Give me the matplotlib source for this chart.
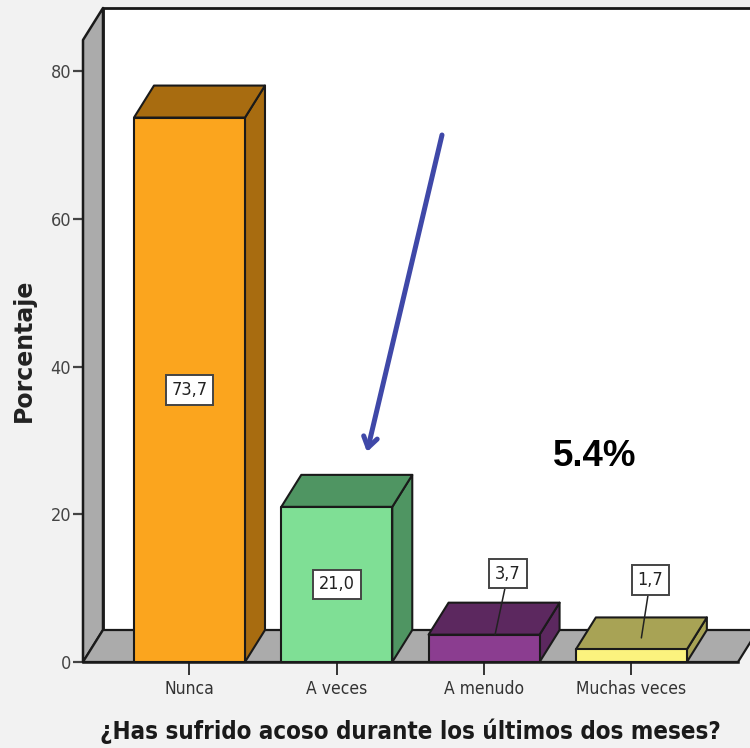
import matplotlib
matplotlib.use("Agg")
import matplotlib.pyplot as plt
from matplotlib.patches import Polygon

categorias = ["Nunca", "A veces", "A menudo", "Muchas veces"]
porcentajes = [73.7, 21.0, 3.7, 1.7]
etiquetas = ["73,7", "21,0", "3,7", "1,7"]
marcas_y = [0, 20, 40, 60, 80]

frente = ["#fba51e", "#7fdf95", "#8b3d90", "#fbf37e"]
arriba = ["#a86c10", "#4f9562", "#5c285f", "#a8a355"]
lado = ["#a86c10", "#4f9562", "#5c285f", "#a8a355"]

W, H = 750, 748
GRIS = "#ababab"
NEGRO = "#1a1a1a"
PASO = 147.3  # pixels between categories

fig = plt.figure(figsize=(W / 100, H / 100), dpi=100, facecolor="#f2f2f2")
# the plot box runs from x=83 to x=738 and y=40 to y=662 in image pixels
ax = fig.add_axes([83 / W, 1 - 662 / H, (738 - 83) / W, (662 - 40) / H])
ax.patch.set_visible(False)
for s in ax.spines.values():
    s.set_visible(False)

xmin, xmax = -0.723, 3.724
ymax = 84.2
ax.set_xlim(xmin, xmax)
ax.set_ylim(0, ymax)

# 3d offset and bar width
dx = 20 / PASO
dy = 32 / 7.3875
ancho = 111 / PASO


def poli(puntos, color, lw=1.5, z=1):
    ax.add_patch(Polygon(puntos, closed=True, facecolor=color, edgecolor=NEGRO,
                         linewidth=lw, clip_on=False, zorder=z, joinstyle="round"))


# back wall, left wall, floor
poli([(xmin + dx, dy), (xmax + 1, dy), (xmax + 1, ymax + dy), (xmin + dx, ymax + dy)], "white", lw=2)
poli([(xmin, 0), (xmin + dx, dy), (xmin + dx, ymax + dy), (xmin, ymax)], GRIS, lw=1.8, z=2)
poli([(xmin, 0), (xmin + dx, dy), (xmax + dx, dy), (xmax, 0)], GRIS, lw=1.6, z=2)

for i, v in enumerate(porcentajes):
    a = i - ancho / 2
    b = i + ancho / 2
    poli([(b, 0), (b + dx, dy), (b + dx, v + dy), (b, v)], lado[i], z=3)
    poli([(a, v), (a + dx, v + dy), (b + dx, v + dy), (b, v)], arriba[i], z=3)
    poli([(a, 0), (b, 0), (b, v), (a, v)], frente[i], z=4)

ax.plot([xmin, xmax], [0, 0], color=NEGRO, lw=1.8, clip_on=False, zorder=5)

caja = dict(boxstyle="square,pad=0.32", facecolor="white", edgecolor="#444444", linewidth=1.4)
fuente_val = dict(family="DejaVu Sans", stretch="condensed", fontsize=13, color="#222222")

# labels inside the tall bars
for i in [0, 1]:
    ax.text(i, porcentajes[i] / 2, etiquetas[i], ha="center", va="center", bbox=caja, zorder=7, **fuente_val)

# labels with a leader line for the short bars
ax.annotate(etiquetas[2], xy=(2 + 11 / PASO, porcentajes[2]), xytext=(13, 61), textcoords="offset pixels",
            ha="center", va="center", bbox=caja, zorder=7, annotation_clip=False,
            arrowprops=dict(arrowstyle="-", color="#222222", lw=1.1, shrinkA=0, shrinkB=0), **fuente_val)
ax.annotate(etiquetas[3], xy=(3 + 10 / PASO, porcentajes[3] + dy * 0.36), xytext=(9, 58), textcoords="offset pixels",
            ha="center", va="center", bbox=caja, zorder=7, annotation_clip=False,
            arrowprops=dict(arrowstyle="-", color="#222222", lw=1.1, shrinkA=0, shrinkB=0), **fuente_val)

ax.set_yticks(marcas_y)
ax.set_xticks(range(len(categorias)))
ax.set_xticklabels(categorias, family="DejaVu Sans", stretch="condensed", fontsize=12.5, color="#333333")
ax.set_yticklabels([str(m) for m in marcas_y], family="DejaVu Sans", stretch="condensed", fontsize=13, color="#444444")
ax.tick_params(axis="y", length=7.5, width=1.6, color="#444444", pad=1)
ax.tick_params(axis="x", length=9.5, width=1.4, color="#333333", pad=3.5)

fig.text(24 / W, 1 - 350 / H, "Porcentaje", rotation=90, ha="center", va="center",
         family="DejaVu Sans", fontweight="bold", fontsize=17, color="#222222")
fig.text(410 / W, 1 - 731 / H, "¿Has sufrido acoso durante los últimos dos meses?", ha="center", va="center",
         family="DejaVu Sans", stretch="condensed", fontweight="bold", fontsize=17.3, color="#1a1a1a")

# hand-added note on the slide
fig.text(595 / W, 1 - 457 / H, "5.4%", ha="center", va="center",
         family="Liberation Sans", fontweight="bold", fontsize=26.5, color="black")
fig.add_artist(matplotlib.patches.FancyArrowPatch(
    (442 / W, 1 - 135 / H), (367 / W, 1 - 452 / H), transform=fig.transFigure,
    arrowstyle="->,head_length=7.5,head_width=5", color="#3f48a8", lw=3.6, shrinkA=0, shrinkB=0, zorder=10))

fig.savefig("out.png", dpi=100, facecolor=fig.get_facecolor())
